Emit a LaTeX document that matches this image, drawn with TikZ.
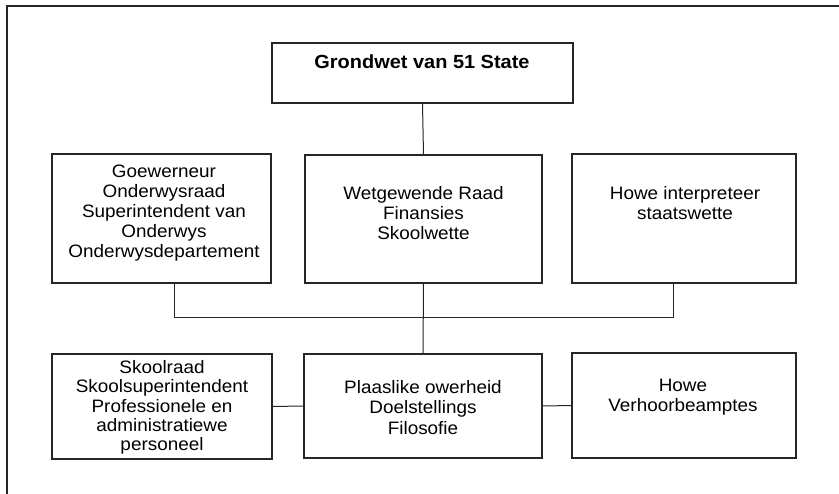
\documentclass[tikz,border=0pt]{standalone}
\usepackage{fontspec}
\setmainfont{Liberation Sans}[FakeStretch=1.05]
\begin{document}
\begin{tikzpicture}[x=1pt,y=-1pt,
  box/.style={draw=black!85, line width=1.1pt, rectangle, inner sep=0pt},
  txt/.style={align=center, inner sep=0pt, font=\fontsize{18}{20.2}\selectfont},
  link/.style={draw=black!85, line width=1pt}]
\useasboundingbox (0,0) rectangle (839,494);
% frame edges
\draw[black!85, line width=1.2pt] (7,494) -- (7,6) -- (839,6);

% top box
\node[box, minimum width=301pt, minimum height=60pt] (top) at (422.5,73) {};
\node[txt, font=\fontsize{19}{21}\selectfont\bfseries] (ttop) at (422,62) {Grondwet van 51 State};

% middle row
\node[box, minimum width=219pt, minimum height=129pt] (m1) at (161.5,218.5) {};
\node[box, minimum width=237pt, minimum height=128pt] (m2) at (423.5,219) {};
\node[box, minimum width=224pt, minimum height=129pt] (m3) at (684,218.5) {};
\node[txt] (tm1) at (164,213) {Goewerneur\\Onderwysraad\\Superintendent van\\Onderwys\\Onderwysdepartement};
\node[txt] (tm2) at (423.5,213) {Wetgewende Raad\\Finansies\\Skoolwette};
\node[txt] (tm3) at (685,203) {Howe interpreteer\\staatswette};

% bottom row
\node[box, minimum width=220pt, minimum height=105pt] (b1) at (162,406.5) {};
\node[box, minimum width=238pt, minimum height=104pt] (b2) at (423,406) {};
\node[box, minimum width=224pt, minimum height=105pt] (b3) at (684,405.5) {};
\node[txt, font=\fontsize{18}{19.3}\selectfont] (tb1) at (162,407.5) {Skoolraad\\Skoolsuperintendent\\Professionele en\\administratiewe\\personeel};
\node[txt] (tb2) at (423,407.5) {Plaaslike owerheid\\Doelstellings\\Filosofie};
\node[txt] (tb3) at (683,397) {Howe\\Verhoorbeamptes};

% connectors
\coordinate (busL) at (174,318);
\coordinate (busR) at (673,318);
\draw[link] (top.south) -- (m2.north);
\draw[link] (m1.south -| busL) -- (busL) -- (busR) -- (m3.south -| busR);
\draw[link] (m2.south) -- (b2.north);
\draw[link] (b1.east) -- (b2.west);
\draw[link] (b2.east) -- (b3.west);
\end{tikzpicture}
\end{document}
